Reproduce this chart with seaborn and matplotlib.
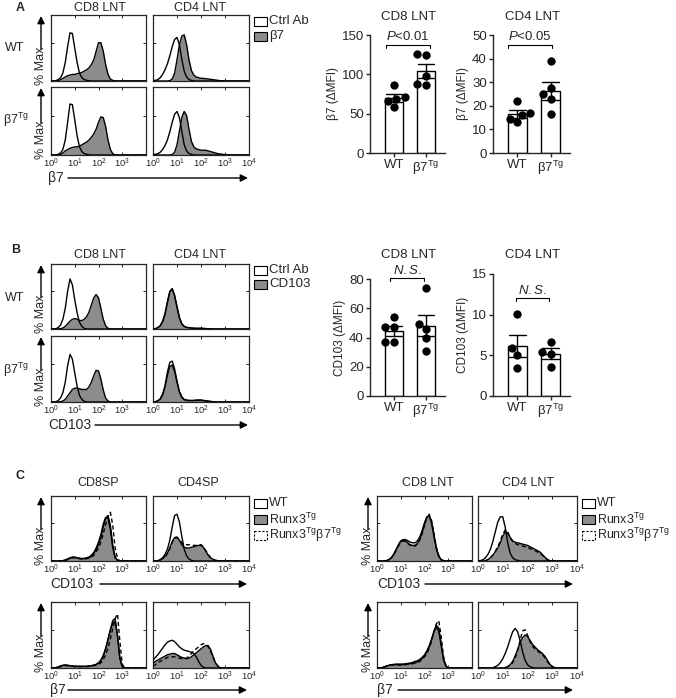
import numpy as np
import pandas as pd
import matplotlib
matplotlib.use('Agg')
import matplotlib.pyplot as plt
import seaborn as sns
from matplotlib.patches import Rectangle
from matplotlib.ticker import NullLocator
from matplotlib.transforms import Bbox, TransformedBbox

# histogram curves: height in % of panel, on a log10 grid 0.0, 0.1 ... 4.0
log_grid = np.round(np.arange(0, 4.01, 0.1), 1)

# panel A, beta7 staining (white = Ctrl Ab, grey = beta7)
a_cd8_wt_ctrl = [0, 0, 0.5, 2, 5, 12, 28, 52, 73, 72, 50, 28, 12, 5, 2, 1, 0.5]
a_cd8_wt_b7 = [0, 0, 0, 0.5, 2, 4, 6, 8, 9, 10, 10, 11, 12, 13, 15, 17, 20, 25, 32, 45, 58, 58, 45, 25, 10, 3, 1]
a_cd4_wt_ctrl = [0.5, 1, 2, 5, 10, 17, 26, 38, 52, 63, 66, 55, 33, 15, 6, 2, 1]
a_cd4_wt_b7 = [0, 0, 0, 0, 0, 0, 0, 0.5, 3, 12, 32, 55, 68, 70, 55, 32, 16, 9, 6, 5, 4, 4, 3.5, 3, 2.5, 2, 1.5, 1, 0.5, 0.3]
a_cd8_tg_ctrl = [0, 0, 0, 1, 3, 8, 22, 48, 75, 74, 52, 28, 12, 5, 2, 1, 0.3]
a_cd8_tg_b7 = [0, 0, 0, 0.3, 1, 3, 6, 8, 10, 11, 12, 12, 13, 15, 17, 19, 22, 26, 31, 38, 48, 56, 55, 42, 22, 8, 2]
a_cd4_tg_ctrl = [0.5, 1, 2, 4, 8, 14, 22, 34, 48, 60, 64, 55, 35, 15, 6, 2, 1]
a_cd4_tg_b7 = [0, 0, 0, 0, 0, 0, 0, 0, 0.5, 4, 15, 35, 55, 64, 58, 38, 20, 12, 9, 8, 7, 7, 7, 6, 5, 4, 3, 2, 1.5, 1, 0.5]

# panel B, CD103 staining
b_cd8_wt_ctrl = [0, 0, 0.5, 2, 6, 15, 32, 58, 77, 68, 45, 25, 10, 4, 1]
b_cd8_wt_cd103 = [0, 0, 0, 0, 0.5, 1.5, 4, 8, 12, 15, 16, 15, 13, 13, 15, 19, 26, 37, 48, 53, 48, 32, 15, 5, 1]
b_cd4_wt_ctrl = [0, 0.5, 2, 5, 11, 22, 40, 57, 62, 52, 35, 18, 8, 4, 2.5, 2, 1.5, 1.2, 1, 1, 1, 0.8, 0.6, 0.4, 0.2]
b_cd4_wt_cd103 = [0, 0.5, 2, 5, 12, 24, 42, 58, 62, 51, 33, 17, 8, 4, 2.5, 2, 1.5, 1.2, 1, 1, 1, 0.8, 0.6, 0.4, 0.2]
b_cd8_tg_ctrl = [0, 0, 0.5, 2, 6, 14, 30, 55, 72, 65, 44, 24, 10, 4, 1]
b_cd8_tg_cd103 = [0, 0, 0, 0, 0.5, 1.5, 4, 9, 14, 19, 21, 21, 20, 19, 19, 19, 23, 30, 40, 48, 47, 35, 18, 6, 1.5]
b_cd4_tg_ctrl = [0, 0.5, 2, 5, 12, 25, 45, 60, 62, 50, 32, 16, 8, 4, 3, 2.5, 2.5, 2.5, 3, 3, 3, 2.5, 2, 1.5, 1, 0.5, 0.2]
b_cd4_tg_cd103 = [0, 0.3, 1.5, 4, 10, 22, 40, 54, 56, 46, 30, 15, 7, 3.5, 2.5, 2, 2, 2, 2.5, 2.5, 2.5, 2, 1.5, 1, 0.5, 0.2]

# panel C thymus (SP): WT (white), Runx3Tg (grey), Runx3Tg b7Tg (dashed)
c_cd8sp_cd103_wt = [0, 0, 0, 0, 0, 0.5, 1.5, 3, 4.5, 5.5, 5.5, 5, 4, 4, 4, 5, 6, 9, 13, 20, 29, 41, 57, 67, 66, 48, 20, 5, 1]
c_cd8sp_cd103_tg = [0, 0, 0, 0, 0, 0.5, 1.5, 3, 5, 6, 6, 5, 4, 3.5, 3.5, 4, 5, 7, 11, 17, 25, 36, 52, 66, 70, 55, 25, 6, 1]
c_cd8sp_cd103_dtg = [0, 0, 0, 0, 0, 0.3, 1, 2, 4, 5, 5, 4.5, 3.5, 3, 3, 3.5, 4.5, 6, 9, 14, 20, 29, 42, 56, 68, 75, 55, 20, 4]
c_cd4sp_cd103_wt = [0, 0, 0.5, 2, 5, 10, 18, 32, 52, 70, 72, 60, 38, 18, 8, 3, 1]
c_cd4sp_cd103_tg = [0, 0, 0.5, 1.5, 4, 7, 12, 20, 30, 36, 37, 32, 25, 21, 20, 20, 21, 22, 23, 24, 24, 21, 15, 9, 5, 2.5, 1, 0.5]
c_cd4sp_cd103_dtg = [0, 0, 0.5, 1.5, 3.5, 6, 11, 19, 29, 35, 36, 33, 28, 25, 25, 25, 24, 24, 24, 25, 25, 22, 16, 10, 5, 2.5, 1, 0.5]
c_cd8sp_b7_wt = [0, 0, 0.5, 1.5, 3, 4, 4.5, 4, 3.5, 3, 2.5, 2.5, 2.5, 2.5, 2.5, 2.5, 3, 3.5, 4.5, 5.5, 8, 12, 19, 30, 44, 58, 68, 70, 48, 14, 2]
c_cd8sp_b7_tg = [0, 0, 0.5, 1.5, 3, 4, 4.5, 4, 3.5, 3, 2.5, 2.5, 2.5, 2.5, 2.5, 2.5, 3, 3.5, 4, 5, 7, 11, 18, 28, 42, 58, 72, 75, 50, 15, 2]
c_cd8sp_b7_dtg = [0, 0, 0.3, 1, 2, 3, 3.5, 3.5, 3, 2.5, 2, 2, 2, 2, 2, 2, 2.5, 3, 3.5, 4, 5.5, 8, 13, 20, 30, 44, 60, 75, 82, 40, 6]
c_cd4sp_b7_wt = [12, 16, 20, 25, 30, 35, 39, 41, 42, 40, 36, 32, 29, 27, 26, 25, 24, 22, 17, 10, 4, 1]
c_cd4sp_b7_tg = [7, 10, 12, 14, 16, 18, 20, 21, 22, 22, 20, 18, 16, 15, 14, 15, 17, 20, 23, 26, 29, 32, 34, 34, 28, 18, 8, 3, 0.5]
c_cd4sp_b7_dtg = [3, 5, 8, 10, 12, 14, 16, 17, 17, 17, 16, 15, 14, 14, 15, 18, 22, 26, 29, 32, 35, 37, 36, 32, 25, 16, 8, 3, 0.5]

# panel C lymph node T cells
c_cd8ln_cd103_wt = [0, 0, 0, 0, 0.5, 2, 5, 10, 17, 25, 31, 33, 33, 31, 29, 28, 28, 31, 37, 47, 59, 68, 69, 58, 38, 18, 7, 2, 0.5]
c_cd8ln_cd103_tg = [0, 0, 0, 0, 0.5, 2, 5, 10, 17, 24, 30, 32, 31, 28, 25, 24, 24, 27, 33, 43, 56, 67, 70, 60, 40, 20, 8, 2, 0.5]
c_cd8ln_cd103_dtg = [0, 0, 0, 0, 0.5, 2, 4.5, 9, 16, 23, 29, 31, 30, 27, 24, 23, 23, 26, 32, 42, 55, 67, 72, 62, 42, 21, 8, 2, 0.5]
c_cd4ln_cd103_wt = [0, 0.5, 2, 5, 10, 18, 30, 45, 60, 68, 68, 52, 28, 12, 5, 2, 1]
c_cd4ln_cd103_tg = [0, 0, 0, 0.5, 2, 5, 9, 14, 20, 28, 38, 45, 43, 36, 31, 29, 28, 27, 26, 25, 24, 22, 20, 18, 16, 14, 10, 6, 2.5, 0.5]
c_cd4ln_cd103_dtg = [0, 0, 0, 0.5, 2, 5, 9, 15, 22, 31, 41, 48, 45, 36, 30, 27, 25, 24, 23, 22, 21, 19, 18, 16, 14, 12, 9, 5, 2, 0.5]
c_cd8ln_b7_wt = [0, 0, 0.5, 1.5, 3, 4, 5, 5.5, 6, 6, 6, 6, 6.5, 7, 7.5, 8.5, 10, 11, 13, 16, 20, 26, 34, 44, 55, 62, 56, 34, 12, 3]
c_cd8ln_b7_tg = [0, 0, 0.5, 1.5, 3, 4, 5, 5, 5, 5, 5, 5, 5.5, 6, 6.5, 7, 8, 9, 11, 14, 18, 24, 32, 43, 56, 65, 60, 38, 14, 3]
c_cd8ln_b7_dtg = [0, 0, 0.3, 1, 2.5, 3.5, 4.5, 4.5, 4.5, 4.5, 4.5, 4.5, 5, 5.5, 6, 6.5, 7.5, 8.5, 10, 13, 17, 22, 30, 41, 55, 67, 72, 48, 18, 4, 0.5]
c_cd4ln_b7_wt = [0, 0, 0, 0, 0, 0, 0.5, 2, 4, 8, 14, 22, 32, 44, 55, 60, 55, 42, 25, 12, 5, 2, 0.5]
c_cd4ln_b7_tg = [0, 0, 0, 0, 0, 0, 0, 0, 0, 0, 0, 0.5, 2, 5, 10, 18, 28, 38, 46, 50, 48, 42, 36, 32, 28, 25, 22, 18, 12, 6, 2, 0.5]
c_cd4ln_b7_dtg = [0, 0, 0, 0, 0, 0, 0, 0, 0, 0, 0, 0.5, 2, 4, 8, 15, 26, 42, 56, 58, 50, 40, 33, 29, 26, 23, 20, 16, 10, 5, 1.5, 0.3]

# bar charts (delta MFI per mouse)
groups = ['WT', 'Tg']
a_cd8_wt = [87, 71, 69, 66, 58]
a_cd8_tg = [126, 124, 98, 88, 86]
a_cd4_wt = [22, 17, 16, 14.5, 13]
a_cd4_tg = [39, 27.5, 25, 23, 16.5]
b_cd8_wt = [54, 47, 47, 37, 37]
b_cd8_tg = [74, 49, 46, 40, 31]
b_cd4_wt = [10.1, 5.9, 5.1, 3.5]
b_cd4_tg = [6.7, 5.4, 5.2, 3.6]

W, H = 676, 698
grey_col = '#8c8c8c'
tg = r'$^{\mathrm{Tg}}$'

sns.set_theme(style='ticks')
plt.rcParams['font.family'] = ['Liberation Sans', 'DejaVu Sans']
plt.rcParams['mathtext.fontset'] = 'custom'
plt.rcParams['mathtext.rm'] = 'Liberation Sans'
plt.rcParams['mathtext.it'] = 'Liberation Sans:italic'
plt.rcParams['mathtext.default'] = 'regular'

fig = plt.figure(figsize=(W / 100, H / 100), dpi=100)


def px_axes(x0, y0, x1, y1):
    return fig.add_axes([x0 / W, 1 - y1 / H, (x1 - x0) / W, (y1 - y0) / H])


def pad(v):
    return np.array(v + [0] * (len(log_grid) - len(v)), dtype=float)


def hist_panel(box, white, grey, dashed=None, labels=True, last_label=True):
    ax = px_axes(*box)
    ax.set_xscale('log')
    x = 10 ** log_grid
    ax.fill_between(x, 0, pad(white), color='white', zorder=1)
    ax.fill_between(x, 0, pad(grey), color=grey_col, lw=0, zorder=2)
    sns.lineplot(x=x, y=pad(white), ax=ax, color='black', lw=1, zorder=3)
    sns.lineplot(x=x, y=pad(grey), ax=ax, color='black', lw=1, zorder=3)
    if dashed is not None:
        sns.lineplot(x=x, y=pad(dashed), ax=ax, color='black', lw=1, linestyle=(0, (3, 2)), zorder=4)
    ax.set_xlim(1, 1e4)
    ax.set_ylim(0, 100)
    ax.set_xticks([1, 10, 100, 1000, 10000])
    ax.xaxis.set_minor_locator(NullLocator())
    ticklab = ['$10^0$', '$10^1$', '$10^2$', '$10^3$', '$10^4$' if last_label else '']
    ax.set_xticklabels(ticklab if labels else [''] * 5)
    ax.tick_params(axis='x', direction='in', length=2, width=0.7, top=True, labelsize=6.8, pad=1.5)
    ax.set_yticks([58])
    ax.set_yticklabels([])
    ax.tick_params(axis='y', direction='in', length=2, width=0.7, right=True)
    for s in ax.spines.values():
        s.set_linewidth(0.9)
    ax.set_xlabel('')
    ax.set_ylabel('')
    return ax


def bar_panel(box, wt, tgv, ymax, yticks, ylabel):
    ax = px_axes(*box)
    df = pd.DataFrame({'group': ['WT'] * len(wt) + ['Tg'] * len(tgv), 'value': wt + tgv})
    sns.barplot(data=df, x='group', y='value', order=groups, errorbar='se', capsize=0.5,
                color='white', saturation=1, edgecolor='black', linewidth=1, width=0.56,
                err_kws={'color': 'black', 'linewidth': 1}, ax=ax)
    sns.swarmplot(data=df, x='group', y='value', order=groups, color='black', size=6, ax=ax)
    ax.set_xlim(-0.74, 1.59)
    ax.set_ylim(0, ymax)
    ax.set_yticks(yticks)
    ax.set_xticks([0, 1])
    ax.set_xticklabels(['WT', 'β7' + tg])
    ax.tick_params(axis='both', direction='out', length=3, width=1, labelsize=9.5, pad=1.5)
    ax.set_xlabel('')
    ax.set_ylabel(ylabel, fontsize=8.5, labelpad=2)
    sns.despine(ax=ax)
    for s in ax.spines.values():
        s.set_linewidth(1)
    return ax


# panel A histograms
hist_panel((51, 15, 146, 81), a_cd8_wt_ctrl, a_cd8_wt_b7, labels=False)
hist_panel((153, 15, 249, 81), a_cd4_wt_ctrl, a_cd4_wt_b7, labels=False)
hist_panel((51, 87, 146, 155), a_cd8_tg_ctrl, a_cd8_tg_b7, last_label=False)
hist_panel((153, 87, 249, 155), a_cd4_tg_ctrl, a_cd4_tg_b7)

# panel B histograms
hist_panel((51, 264, 146, 329), b_cd8_wt_ctrl, b_cd8_wt_cd103, labels=False)
hist_panel((153, 264, 249, 329), b_cd4_wt_ctrl, b_cd4_wt_cd103, labels=False)
hist_panel((51, 336, 146, 402), b_cd8_tg_ctrl, b_cd8_tg_cd103, last_label=False)
hist_panel((153, 336, 249, 402), b_cd4_tg_ctrl, b_cd4_tg_cd103)

# panel C histograms
hist_panel((51, 496, 146, 561), c_cd8sp_cd103_wt, c_cd8sp_cd103_tg, c_cd8sp_cd103_dtg, last_label=False)
hist_panel((153, 496, 249, 561), c_cd4sp_cd103_wt, c_cd4sp_cd103_tg, c_cd4sp_cd103_dtg)
hist_panel((51, 602, 146, 668), c_cd8sp_b7_wt, c_cd8sp_b7_tg, c_cd8sp_b7_dtg, last_label=False)
hist_panel((153, 602, 249, 668), c_cd4sp_b7_wt, c_cd4sp_b7_tg, c_cd4sp_b7_dtg)
hist_panel((377, 496, 472, 561), c_cd8ln_cd103_wt, c_cd8ln_cd103_tg, c_cd8ln_cd103_dtg, last_label=False)
hist_panel((478, 496, 577, 561), c_cd4ln_cd103_wt, c_cd4ln_cd103_tg, c_cd4ln_cd103_dtg)
hist_panel((377, 602, 472, 668), c_cd8ln_b7_wt, c_cd8ln_b7_tg, c_cd8ln_b7_dtg, last_label=False)
hist_panel((478, 602, 577, 668), c_cd4ln_b7_wt, c_cd4ln_b7_tg, c_cd4ln_b7_dtg)

# bar charts
bar_panel((370, 35, 445, 153), a_cd8_wt, a_cd8_tg, 150, [0, 50, 100, 150], 'β7 (ΔMFI)')
bar_panel((493, 35, 570, 153), a_cd4_wt, a_cd4_tg, 50, [0, 10, 20, 30, 40, 50], 'β7 (ΔMFI)')
bar_panel((370, 279, 445, 396), b_cd8_wt, b_cd8_tg, 80, [0, 20, 40, 60, 80], 'CD103 (ΔMFI)')
bar_panel((493, 274, 570, 396), b_cd4_wt, b_cd4_tg, 15, [0, 5, 10, 15], 'CD103 (ΔMFI)')

# overlay in pixel coordinates for labels, arrows and legends
ax0 = fig.add_axes([0, 0, 1, 1])
ax0.set_xlim(0, W)
ax0.set_ylim(H, 0)
ax0.axis('off')


def txt(x, y, s, size=9, **kw):
    kw.setdefault('ha', 'center')
    kw.setdefault('va', 'center')
    return ax0.text(x, y, s, fontsize=size, **kw)


def arrow(x0, y0, x1, y1):
    ax0.annotate('', xy=(x1, y1), xytext=(x0, y0),
                 arrowprops=dict(arrowstyle='-|>', color='black', lw=1, mutation_scale=11,
                                 shrinkA=0, shrinkB=0))


def pct_max(x, top, bottom):
    txt(x, bottom - 15, '% Max', size=9, rotation=90)
    arrow(x, bottom - 32, x, top + 1)


def legend_item(x, y, kind, label, size=9.5, clip=None):
    fc = grey_col if kind == 'grey' else 'white'
    ls = (0, (2, 1.5)) if kind == 'dashed' else '-'
    ax0.add_patch(Rectangle((x, y - 4.5), 13, 9, facecolor=fc, edgecolor='black', lw=0.8, linestyle=ls))
    t = txt(x + 15, y, label, size=size, ha='left')
    if clip is not None:
        t.set_clip_box(TransformedBbox(Bbox([[0, 0], [clip, H]]), ax0.transData))
        t.set_clip_on(True)


# panel letters
txt(20, 8, 'A', size=9, weight='bold')
txt(16, 250, 'B', size=9, weight='bold')
txt(20, 476, 'C', size=9, weight='bold')

# histogram column titles and row labels
for y in (8, 255):
    txt(100, y, 'CD8 LNT')
    txt(200, y, 'CD4 LNT')
txt(98, 483, 'CD8SP')
txt(198, 483, 'CD4SP')
txt(428, 483, 'CD8 LNT')
txt(528, 483, 'CD4 LNT')
txt(15, 48, 'WT')
txt(16, 120, 'β7' + tg)
txt(15, 298, 'WT')
txt(16, 370, 'β7' + tg)

for top, bottom in [(15, 81), (87, 155), (264, 329), (336, 402), (496, 561), (602, 668)]:
    pct_max(41, top, bottom)
for top, bottom in [(496, 561), (602, 668)]:
    pct_max(368, top, bottom)

# axis labels with arrows
txt(48, 178, 'β7', size=10, ha='left')
arrow(68, 178, 248, 178)
txt(48, 425, 'CD103', size=10, ha='left')
arrow(95, 425, 248, 425)
txt(50, 584, 'CD103', size=10, ha='left')
arrow(100, 584, 247, 584)
txt(50, 690, 'β7', size=10, ha='left')
arrow(68, 690, 247, 690)
txt(377, 584, 'CD103', size=10, ha='left')
arrow(425, 584, 573, 584)
txt(377, 690, 'β7', size=10, ha='left')
arrow(398, 690, 573, 690)

# legends
legend_item(254, 21, 'white', 'Ctrl Ab')
legend_item(254, 36, 'grey', 'β7')
legend_item(254, 270, 'white', 'Ctrl Ab')
legend_item(254, 284, 'grey', 'CD103')
for lx, clip in [(254, 343), (582, None)]:
    legend_item(lx, 503, 'white', 'WT', 9, clip)
    legend_item(lx, 519, 'grey', 'Runx3' + tg, 9, clip)
    legend_item(lx, 535, 'dashed', 'Runx3' + tg + 'β7' + tg, 9, clip)

# bar chart titles and significance brackets
txt(409, 17, 'CD8 LNT', size=9.5)
txt(533, 17, 'CD4 LNT', size=9.5)
txt(409, 255, 'CD8 LNT', size=9.5)
txt(533, 255, 'CD4 LNT', size=9.5)


def bracket(x0, x1, y, label):
    ax0.plot([x0, x0, x1, x1], [y + 3, y, y, y + 3], color='black', lw=0.8)
    txt((x0 + x1) / 2, y - 8, label, size=9.5)


bracket(386, 430, 45, r'$\mathit{P}$<0.01')
bracket(508, 552, 45, r'$\mathit{P}$<0.05')
bracket(390, 424, 278, r'$\mathit{N.S.}$')
bracket(516, 549, 298, r'$\mathit{N.S.}$')

fig.savefig('out.png', dpi=100)
